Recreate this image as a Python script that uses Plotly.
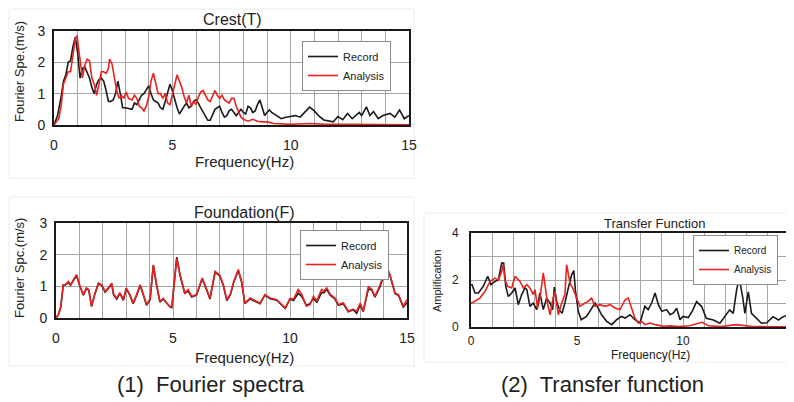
import plotly.graph_objects as go

# ---------------- data ----------------
crest_rec_f = [0, 0.15, 0.3, 0.4, 0.5, 0.6, 0.7, 0.8, 0.9, 1.0, 1.1, 1.2, 1.3, 1.4, 1.5, 1.6, 1.7, 1.8, 1.9, 2.0,
               2.1, 2.2, 2.3, 2.4, 2.5, 2.6, 2.7, 2.8, 2.9, 3.0, 3.2, 3.3, 3.4, 3.5, 3.6, 3.7, 3.8, 3.9, 4.0, 4.1,
               4.2, 4.3, 4.4, 4.5, 4.6, 4.7, 4.8, 4.9, 5.0, 5.1, 5.2, 5.3, 5.4, 5.5, 5.6, 5.7, 5.8, 5.9, 6.0, 6.1,
               6.2, 6.3, 6.4, 6.5, 6.6, 6.7, 6.8, 6.9, 7.0, 7.1, 7.2, 7.3, 7.4, 7.5, 7.6, 7.7, 7.8, 7.9, 8.0, 8.1,
               8.2, 8.3, 8.4, 8.5, 8.6, 8.7, 8.8, 8.9, 9.0, 9.1, 9.2, 9.4, 9.6, 9.8, 10.0, 10.2, 10.4, 10.6, 10.8,
               11.0, 11.2, 11.4, 11.6, 11.8, 12.0, 12.2, 12.4, 12.6, 12.9, 13.0, 13.2, 13.35, 13.5, 13.7, 13.9,
               14.2, 14.4, 14.6, 14.8, 15.0]
crest_rec_v = [0, 0.3, 0.9, 1.4, 1.6, 2.0, 2.05, 2.5, 2.8, 2.3, 1.5, 1.8, 1.85, 1.7, 1.5, 1.2, 1.0, 1.3, 1.45, 1.5,
               1.4, 1.1, 0.75, 0.75, 0.8, 1.0, 1.4, 1.0, 0.55, 0.55, 0.5, 0.5, 0.7, 0.65, 0.8, 0.95, 1.0, 1.15, 1.25, 1.0,
               0.8, 0.75, 0.7, 0.55, 0.5, 0.75, 1.0, 1.3, 1.1, 0.8, 0.55, 0.35, 0.5, 0.6, 0.7, 0.55, 0.6, 0.75, 0.8, 0.7,
               0.55, 0.4, 0.25, 0.15, 0.15, 0.35, 0.5, 0.55, 0.6, 0.4, 0.25, 0.3, 0.45, 0.5, 0.4, 0.3, 0.4, 0.5, 0.4, 0.35,
               0.6, 0.55, 0.4, 0.45, 0.65, 0.8, 0.55, 0.3, 0.4, 0.48, 0.4, 0.3, 0.2, 0.25, 0.28, 0.3, 0.25, 0.4, 0.57,
               0.45, 0.28, 0.16, 0.12, 0.1, 0.27, 0.17, 0.37, 0.2, 0.4, 0.3, 0.58, 0.3, 0.43, 0.2, 0.3,
               0.37, 0.25, 0.48, 0.2, 0.3]

crest_ana_f = [0, 0.2, 0.3, 0.4, 0.5, 0.6, 0.7, 0.8, 0.9, 0.97, 1.1, 1.2, 1.3, 1.4, 1.5, 1.6, 1.7, 1.8, 1.9, 2.0,
               2.1, 2.2, 2.3, 2.35, 2.45, 2.55, 2.65, 2.75, 2.85, 2.95, 3.05, 3.15, 3.3, 3.4, 3.5, 3.6, 3.7, 3.8, 3.9,
               4.0, 4.1, 4.2, 4.3, 4.4, 4.5, 4.6, 4.7, 4.8, 4.9, 5.0, 5.1, 5.2, 5.3, 5.4, 5.5, 5.6, 5.7, 5.8, 5.9,
               6.0, 6.1, 6.2, 6.3, 6.4, 6.5, 6.6, 6.7, 6.8, 6.9, 7.0, 7.1, 7.2, 7.3, 7.4, 7.5, 7.6, 7.7, 7.8, 7.9,
               8.0, 8.2, 8.4, 8.6, 8.8, 9.0, 9.3, 9.6, 10.0, 10.8, 11.5, 12.5, 13.5, 15.0]
crest_ana_v = [0, 0.2, 0.6, 1.3, 1.5, 1.7, 1.7, 2.2, 2.75, 2.85, 2.0, 1.5, 1.9, 2.1, 2.05, 1.5, 1.3, 0.95, 1.3, 1.7,
               1.7, 1.65, 1.8, 2.1, 1.95, 1.5, 1.1, 0.85, 0.95, 0.85, 1.05, 0.85, 0.8, 0.95, 0.85, 0.6, 0.55, 0.45, 0.6,
               0.9, 1.4, 1.65, 1.3, 1.0, 1.0, 0.85, 1.0, 0.7, 0.65, 1.0, 1.35, 1.6, 1.4, 1.2, 0.9, 0.7, 0.95, 0.6, 0.75,
               0.65, 0.9, 1.05, 1.1, 0.95, 0.8, 0.75, 0.9, 1.1, 0.95, 0.85, 0.95, 0.8, 0.75, 0.7, 0.85, 0.85, 0.6, 0.4, 0.25,
               0.18, 0.12, 0.18, 0.12, 0.1, 0.1, 0.05, 0.03, 0.02, 0.05, 0.02, 0.02, 0.02, 0.01]

found_f = [0, 0.1, 0.2, 0.31, 0.4, 0.53, 0.62, 0.74, 0.88, 1.0, 1.17, 1.3, 1.4, 1.52, 1.65, 1.81, 1.95, 2.1, 2.24,
           2.38, 2.46, 2.6, 2.73, 2.88, 3.0, 3.15, 3.3, 3.45, 3.6, 3.73, 3.87, 4.02, 4.16, 4.3, 4.44, 4.58, 4.72,
           4.87, 4.95, 5.16, 5.3, 5.5, 5.65, 5.8, 6.0, 6.25, 6.44, 6.58, 6.8, 6.9, 7.0, 7.15, 7.3, 7.45, 7.6, 7.79,
           7.93, 8.07, 8.3, 8.5, 8.72, 8.93, 9.15, 9.43, 9.65, 9.8, 10.0, 10.15, 10.35, 10.5, 10.7, 10.85, 11.0,
           11.15, 11.35, 11.45, 11.57, 11.72, 11.92, 12.07, 12.28, 12.49, 12.7, 12.85, 13.0, 13.13, 13.35, 13.5,
           13.63, 13.85, 14.13, 14.27, 14.49, 14.63, 14.84, 15.0]
found_ana_v = [0, 0.1, 0.35, 1.05, 1.05, 1.15, 1.05, 1.2, 1.37, 1.05, 0.74, 0.95, 0.9, 0.37, 0.75, 1.1, 1.05, 0.84, 0.95,
               1.1, 0.75, 0.63, 0.8, 0.58, 0.95, 0.75, 0.47, 0.75, 1.05, 0.75, 0.42, 0.6, 1.68, 1.05, 0.52, 0.62, 0.48,
               0.37, 0.35, 1.88, 1.37, 0.8, 0.9, 0.68, 0.74, 1.26, 0.9, 0.63, 1.47, 1.42, 1.35, 1.05, 0.58, 0.75, 1.16, 1.53,
               1.16, 0.47, 0.63, 0.55, 0.47, 0.74, 0.63, 0.58, 0.42, 0.32, 0.62, 0.6, 0.9, 0.75, 0.37, 0.42, 0.68,
               0.55, 0.9, 0.85, 0.95, 0.75, 0.63, 0.42, 0.48, 0.21, 0.28, 0.21, 0.47, 0.21, 1.0, 0.9,
               0.68, 1.05, 1.63, 1.37, 0.79, 0.74, 0.37, 0.58]
found_rec_v = [0, 0.1, 0.33, 1.03, 1.05, 1.12, 1.03, 1.18, 1.35, 1.05, 0.72, 0.93, 0.88, 0.37, 0.73, 1.08, 1.03, 0.82, 0.93,
               1.08, 0.73, 0.6, 0.78, 0.56, 0.93, 0.73, 0.45, 0.73, 1.03, 0.73, 0.4, 0.58, 1.66, 1.03, 0.5, 0.6, 0.46,
               0.35, 0.33, 1.92, 1.35, 0.78, 0.85, 0.66, 0.72, 1.24, 0.88, 0.6, 1.45, 1.4, 1.33, 1.03, 0.55, 0.73, 1.14, 1.5,
               1.14, 0.45, 0.6, 0.53, 0.45, 0.72, 0.61, 0.56, 0.4, 0.3, 0.6, 0.55, 0.78, 0.68, 0.4, 0.45, 0.62,
               0.5, 0.8, 0.8, 0.9, 0.72, 0.6, 0.4, 0.45, 0.2, 0.26, 0.15, 0.42, 0.2, 0.92, 0.88,
               0.66, 1.0, 1.6, 1.35, 0.77, 0.72, 0.35, 0.48]

tf_rec_f = [0.0, 0.05, 0.19, 0.35, 0.58, 0.79, 0.94, 1.13, 1.29, 1.45, 1.54, 1.64, 1.76, 1.92, 2.08, 2.23, 2.39,
            2.55, 2.63, 2.78, 2.94, 3.1, 3.25, 3.41, 3.57, 3.73, 3.85, 3.93, 4.04, 4.2, 4.3, 4.43, 4.59, 4.75, 4.85,
            4.92, 5.06, 5.2, 5.45, 5.6, 5.85, 6.0, 6.16, 6.4, 6.64, 6.87, 7.1, 7.27, 7.5, 7.73, 7.97, 8.2, 8.36,
            8.52, 8.68, 8.84, 9.0, 9.23, 9.39, 9.55, 9.7, 9.86, 10.0, 10.25, 10.45, 10.64, 10.88, 11.1, 11.43, 11.74,
            11.98, 12.2, 12.37, 12.53, 12.65, 12.81, 12.92, 13.08, 13.23, 13.47, 13.7, 13.95, 14.25, 14.5, 14.73,
            14.96, 15.0]
tf_rec_v = [1.8, 1.8, 1.45, 1.45, 1.73, 2.16, 1.8, 1.94, 2.0, 2.72, 2.72, 1.73, 1.3, 1.45, 1.66, 0.95, 1.38,
            1.66, 1.6, 0.88, 1.02, 0.74, 1.45, 0.74, 1.23, 1.02, 0.74, 1.7, 1.09, 0.67, 0.6, 1.02, 1.66, 2.23, 2.4,
            1.6, 0.67, 0.31, 0.45, 0.67, 1.02, 0.8, 0.52, 0.24, 0.1, 0.31, 0.45, 0.38, 0.52, 0.31, 0.17, 0.88, 0.74,
            1.02, 1.45, 0.95, 0.67, 0.74, 0.52, 0.6, 0.8, 0.31, 0.45, 0.4, 0.7, 1.08, 0.87, 0.37, 0.3, 0.16,
            0.44, 0.73, 0.58, 1.58, 2.08, 1.3, 0.58, 1.5, 0.58, 0.37, 0.16, 0.18, 0.44, 0.3, 0.44,
            0.51, 0.5]

tf_ana_f = [0, 0.19, 0.42, 0.66, 0.9, 1.13, 1.29, 1.45, 1.52, 1.6, 1.73, 1.92, 2.08, 2.31, 2.47, 2.63, 2.78, 2.94,
            3.02, 3.14, 3.25, 3.41, 3.49, 3.62, 3.73, 3.84, 3.96, 4.12, 4.28, 4.43, 4.51, 4.6, 4.67, 4.83, 4.99,
            5.14, 5.38, 5.53, 5.69, 5.85, 6.08, 6.32, 6.56, 6.79, 7.03, 7.27, 7.42, 7.58, 7.73, 7.89, 8.05, 8.2,
            8.44, 8.7, 9.07, 9.4, 9.8, 10.3, 10.9, 11.2, 11.8, 12.5, 12.8, 13.2, 14.0, 15.0]
tf_ana_v = [1.0, 1.09, 1.23, 1.52, 1.94, 2.08, 2.0, 2.37, 2.65, 2.0, 1.73, 1.66, 2.16, 1.94, 1.66, 1.8, 1.66, 1.38,
            1.59, 0.81, 1.23, 2.3, 1.73, 0.95, 0.52, 1.09, 1.52, 0.52, 1.02, 1.38, 2.65, 2.1, 1.87, 1.59, 1.23,
            0.88, 1.02, 1.09, 1.23, 0.88, 0.95, 0.88, 0.95, 0.81, 0.74, 1.16, 1.23, 0.81, 0.38, 0.17, 0.24, 0.1,
            0.17, 0.1, 0.03, 0.05, 0.02, 0.05, 0.2, 0.05, 0.02, 0.1, 0.08, 0.03, 0.01, 0.01]

x_ticks = [0, 5, 10, 15]
series_names = ["Record", "Analysis"]

# ---------------- figure ----------------
OFF = 8                       # page body margin
W, H = 794 - OFF, 402 - OFF   # figure size so that the page fits the window
BLACK = "#1a1a1a"
RED = "#e8231f"
GRID = "#a6a6a6"
FONT = "Liberation Sans, Arial, sans-serif"

def px_x(p):
    return (p - OFF) / W

def px_y(p):
    return 1 - (p - OFF) / H

fig = go.Figure()

panels = [
    ("x", "y", "legend", crest_rec_f, crest_rec_v, crest_ana_f, crest_ana_v),
    ("x2", "y2", "legend2", found_f, found_rec_v, found_f, found_ana_v),
    ("x3", "y3", "legend3", tf_rec_f, tf_rec_v, tf_ana_f, tf_ana_v),
]
for xa, ya, lg, rf, rv, af, av in panels:
    fig.add_trace(go.Scatter(x=rf, y=rv, mode="lines", name=series_names[0],
                             line=dict(color=BLACK, width=1.6), xaxis=xa, yaxis=ya, legend=lg))
    fig.add_trace(go.Scatter(x=af, y=av, mode="lines", name=series_names[1],
                             line=dict(color=RED, width=1.6), xaxis=xa, yaxis=ya, legend=lg))

def xax(domain, anchor, fs, standoff):
    return dict(domain=domain, anchor=anchor, range=[0, 15], tickvals=x_ticks, automargin=False,
                showgrid=True, gridcolor=GRID, gridwidth=1,
                minor=dict(dtick=1, showgrid=True, gridcolor=GRID, gridwidth=1),
                showline=True, linecolor=BLACK, linewidth=2, mirror=True, zeroline=False,
                ticks="", ticklabelstandoff=standoff,
                tickfont=dict(family=FONT, size=fs, color="#222"))

def yax(domain, anchor, rng, dtick, minor_dtick, fs, standoff):
    d = dict(domain=domain, anchor=anchor, range=rng, dtick=dtick, automargin=False,
             showgrid=True, gridcolor=GRID, gridwidth=1,
             showline=True, linecolor=BLACK, linewidth=2, mirror=True, zeroline=False,
             ticks="", ticklabelstandoff=standoff,
             tickfont=dict(family=FONT, size=fs, color="#222"))
    if minor_dtick:
        d["minor"] = dict(dtick=minor_dtick, showgrid=True, gridcolor=GRID, gridwidth=1)
    return d

fig.update_layout(
    width=W, height=H, margin=dict(l=0, r=0, t=0, b=0, pad=0), autosize=False,
    paper_bgcolor="white", plot_bgcolor="white",
    font=dict(family=FONT, color="#222"),
    xaxis=xax([px_x(54), px_x(409)], "y", 14, 6),
    yaxis=yax([px_y(125), px_y(31)], "x", [0, 3], 1, None, 14, 4),
    xaxis2=xax([px_x(56), px_x(407)], "y2", 14, 6),
    yaxis2=yax([px_y(318), px_y(223)], "x2", [0, 3], 1, None, 14, 4),
    xaxis3=xax([px_x(471), px_x(789)], "y3", 12, 2),
    yaxis3=yax([px_y(327), px_y(233)], "x3", [0, 4], 2, 1, 12, 8),
)

def legend_cfg(x, y, fs):
    return dict(x=px_x(x), y=px_y(y), xanchor="left", yanchor="top",
                bgcolor="white", bordercolor="#8c8c8c", borderwidth=1,
                font=dict(family=FONT, size=fs, color="#222"),
                itemwidth=30, tracegroupgap=0)

fig.update_layout(
    legend=legend_cfg(302, 41, 11),
    legend2=legend_cfg(300, 230, 11),
    legend3=legend_cfg(693, 235, 10),
)

annotations = [
    ("Crest(T)", 232, 19, 16, 0),
    ("Frequency(Hz)", 244, 162, 15, 0),
    ("Fourier Spe.(m/s)", 19, 72, 13, -90),
    ("Foundation(F)", 244, 212, 16, 0),
    ("Frequency(Hz)", 244, 357, 15, 0),
    ("Fourier Spc.(m/s)", 19, 268, 13, -90),
    ("Transfer Function", 654, 223, 13, 0),
    ("Frequency(Hz)", 650, 355, 12, 0),
    ("Amplification", 437, 281, 11, -90),
    ("(1)  Fourier spectra", 211, 384, 22, 0),
    ("(2)  Transfer function", 602, 384, 22, 0),
]
for text, x, y, fs, ang in annotations:
    fig.add_annotation(text=text, x=px_x(x), y=px_y(y), xref="paper", yref="paper",
                       showarrow=False, xanchor="center", yanchor="middle", textangle=ang,
                       font=dict(family=FONT, size=fs, color="#222"))

# faint chart-area frames
for x0, y0, x1, y1 in [(9, 9, 414, 178), (9, 197, 414, 366), (424, 213, 793, 362)]:
    fig.add_shape(type="rect", xref="paper", yref="paper",
                  x0=px_x(x0), x1=px_x(x1), y0=px_y(y1), y1=px_y(y0),
                  line=dict(color="#ececec", width=1), layer="below")

fig.write_html("out.html")
